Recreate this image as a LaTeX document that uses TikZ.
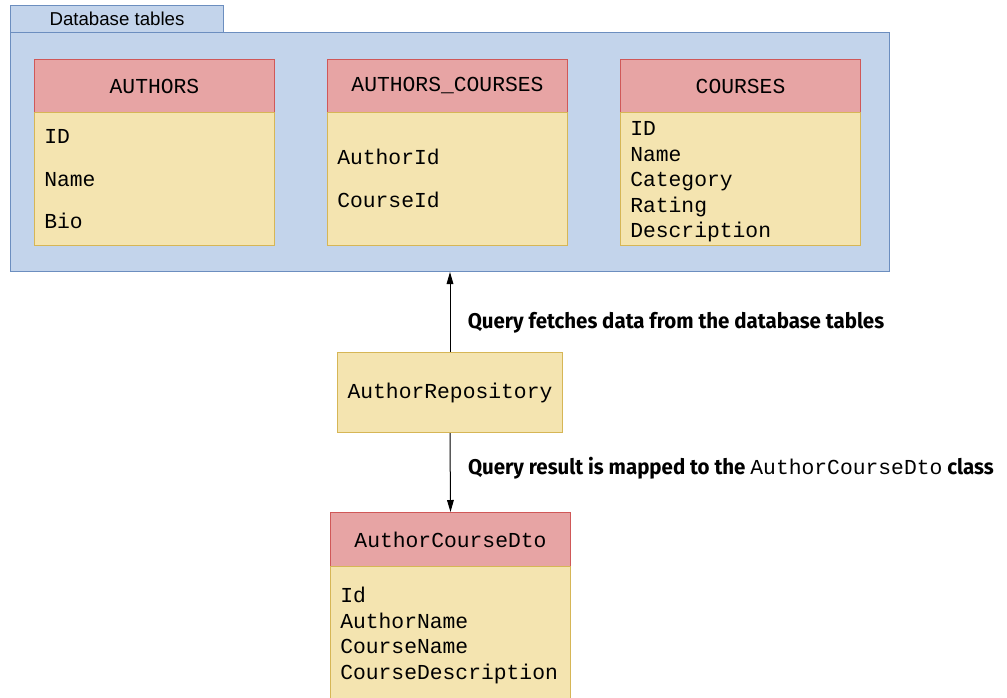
\documentclass[tikz,border=0pt]{standalone}
\usepackage{fontspec}
\setmainfont{Liberation Sans}
\setsansfont{Liberation Sans}
\setmonofont{Liberation Mono}
\newfontfamily\notefont[FakeStretch=0.96]{Fira Sans}
\usetikzlibrary{arrows.meta}
\definecolor{dbfill}{RGB}{195,212,235}
\definecolor{dbline}{RGB}{108,142,191}
\definecolor{hdrfill}{RGB}{231,164,164}
\definecolor{hdrline}{RGB}{208,88,88}
\definecolor{bodyfill}{RGB}{244,228,176}
\definecolor{bodyline}{RGB}{214,182,86}
\newcommand{\tabfont}{\ttfamily\fontsize{16}{19}\selectfont}
\begin{document}
\begin{tikzpicture}[x=0.75pt, y=-0.75pt, every node/.style={align=center}]
        \tikzstyle{dbbox}=[rectangle, draw=dbline, fill=dbfill, line width=0.75pt, anchor=north west];
        \tikzstyle{tabhead}=[rectangle, draw=hdrline, fill=hdrfill, line width=0.75pt, anchor=north west, minimum width=180pt, minimum height=39.75pt, font=\tabfont];
        \tikzstyle{tabbody}=[rectangle, draw=bodyline, fill=bodyfill, line width=0.75pt, anchor=north west, minimum width=180pt, minimum height=99.75pt];
        \tikzstyle{field}=[anchor=base west, inner sep=0pt, font=\tabfont];
        \tikzstyle{note}=[anchor=west, inner sep=0pt, font=\notefont\bfseries\fontsize{16}{19}\selectfont];
        \tikzstyle{edge}=[-{Triangle[length=9pt, width=5pt]}, line width=0.75pt];
        \useasboundingbox (0,0) rectangle (1007,697);
        \clip (0,0) rectangle (1007,697);
        % database area
        \node[dbbox, minimum width=159.75pt, minimum height=20.25pt, font=\sffamily\fontsize{14}{16}\selectfont] (dbtab) at (10,5) {Database tables};
        \node[dbbox, minimum width=659.25pt, minimum height=179.25pt] (dbarea) at (10,32) {};
        % tables
        \node[tabhead] (authors) at (34,59) {AUTHORS};
        \node[tabbody] (authorsbody) at (34,112) {};
        \node[field] (authorsid) at (44,143) {ID};
        \node[field] (authorsname) at (44,186) {Name};
        \node[field] (authorsbio) at (44,228) {Bio};
        \node[tabhead] (authcourses) at (327,59) {AUTHORS\_COURSES};
        \node[tabbody] (authcoursesbody) at (327,112) {};
        \node[field] (authorid) at (337,164) {AuthorId};
        \node[field] (courseid) at (337,207) {CourseId};
        \node[tabhead] (courses) at (620,59) {COURSES};
        \node[tabbody] (coursesbody) at (620,112) {};
        \node[field] (coursesid) at (630,135) {ID};
        \node[field] (coursesname) at (630,161) {Name};
        \node[field] (coursescat) at (630,186) {Category};
        \node[field] (coursesrating) at (630,212) {Rating};
        \node[field] (coursesdesc) at (630,237) {Description};
        % repository and dto
        \node[tabbody, minimum width=168.75pt, minimum height=60pt, font=\tabfont] (repo) at (337,352) {AuthorRepository};
        \node[tabhead, minimum height=40.5pt] (dto) at (330,512) {AuthorCourseDto};
        \node[tabbody, minimum height=110pt] (dtobody) at (330,566) {};
        \node[field] (dtoid) at (340,602) {Id};
        \node[field] (dtoauthor) at (340,628) {AuthorName};
        \node[field] (dtocourse) at (340,653) {CourseName};
        \node[field] (dtodesc) at (340,679) {CourseDescription};
        % connectors
        \draw[edge] (repo.north) -- node[note, pos=0.36, xshift=13pt]{Query fetches data from the database tables} (dbarea.south);
        \draw[edge] (repo.south) -- node[note, pos=0.44, xshift=13pt]{Query result is mapped to the {\mdseries\tabfont AuthorCourseDto} class} (dto.north);
    \end{tikzpicture}
\end{document}
